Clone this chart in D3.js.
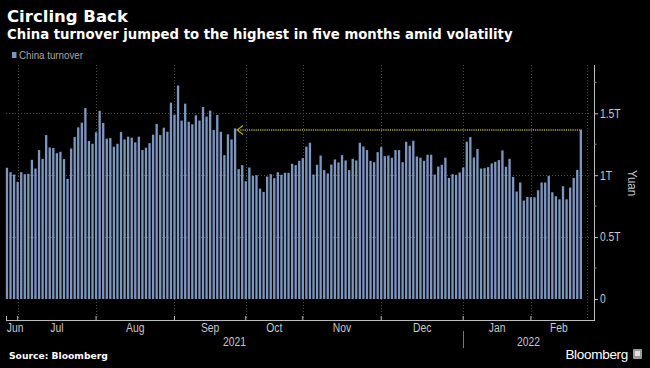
<!DOCTYPE html>
<html>
<head>
<meta charset="utf-8">
<script src="https://cdn.jsdelivr.net/npm/d3@7"></script>
<style>
  html, body { margin: 0; padding: 0; background: #000; }
  svg { display: block; }
</style>
</head>
<body>
<svg id="chart" width="650" height="368"></svg>
<script>
// ---------------- DATA ----------------
const dates = [
  "2021-06-28","2021-06-29","2021-06-30",
  "2021-07-01","2021-07-02","2021-07-05","2021-07-06","2021-07-07","2021-07-08","2021-07-09","2021-07-12","2021-07-13","2021-07-14","2021-07-15","2021-07-16","2021-07-19","2021-07-20","2021-07-21","2021-07-22","2021-07-23","2021-07-26","2021-07-27","2021-07-28","2021-07-29","2021-07-30",
  "2021-08-02","2021-08-03","2021-08-04","2021-08-05","2021-08-06","2021-08-09","2021-08-10","2021-08-11","2021-08-12","2021-08-13","2021-08-16","2021-08-17","2021-08-18","2021-08-19","2021-08-20","2021-08-23","2021-08-24","2021-08-25","2021-08-26","2021-08-27","2021-08-30","2021-08-31",
  "2021-09-01","2021-09-02","2021-09-03","2021-09-06","2021-09-07","2021-09-08","2021-09-09","2021-09-10","2021-09-13","2021-09-14","2021-09-15","2021-09-16","2021-09-17","2021-09-22","2021-09-23","2021-09-24","2021-09-27","2021-09-28","2021-09-29","2021-09-30",
  "2021-10-08","2021-10-11","2021-10-12","2021-10-13","2021-10-14","2021-10-15","2021-10-18","2021-10-19","2021-10-20","2021-10-21","2021-10-22","2021-10-25","2021-10-26","2021-10-27","2021-10-28","2021-10-29",
  "2021-11-01","2021-11-02","2021-11-03","2021-11-04","2021-11-05","2021-11-08","2021-11-09","2021-11-10","2021-11-11","2021-11-12","2021-11-15","2021-11-16","2021-11-17","2021-11-18","2021-11-19","2021-11-22","2021-11-23","2021-11-24","2021-11-25","2021-11-26","2021-11-29","2021-11-30",
  "2021-12-01","2021-12-02","2021-12-03","2021-12-06","2021-12-07","2021-12-08","2021-12-09","2021-12-10","2021-12-13","2021-12-14","2021-12-15","2021-12-16","2021-12-17","2021-12-20","2021-12-21","2021-12-22","2021-12-23","2021-12-24","2021-12-27","2021-12-28","2021-12-29","2021-12-30","2021-12-31",
  "2022-01-04","2022-01-05","2022-01-06","2022-01-07","2022-01-10","2022-01-11","2022-01-12","2022-01-13","2022-01-14","2022-01-17","2022-01-18","2022-01-19","2022-01-20","2022-01-21","2022-01-24","2022-01-25","2022-01-26","2022-01-27","2022-01-28",
  "2022-02-07","2022-02-08","2022-02-09","2022-02-10","2022-02-11","2022-02-14","2022-02-15","2022-02-16","2022-02-17","2022-02-18","2022-02-21","2022-02-22","2022-02-23","2022-02-24","2022-02-25"
];

// China turnover, trillion yuan
const turnover = [
  1.060,1.024,1.005,
  0.946,1.024,1.008,1.011,1.124,1.054,1.203,1.132,1.324,1.224,1.220,1.178,1.189,1.130,0.970,1.216,1.308,1.386,1.424,1.543,1.276,1.254,1.346,
  1.520,1.422,1.295,1.300,1.230,1.254,1.349,1.289,1.311,1.303,1.265,1.311,1.203,1.222,1.259,1.327,1.414,1.324,1.384,1.351,1.586,1.489,
  1.724,1.441,1.578,1.432,1.411,1.484,1.441,1.551,1.473,1.522,1.365,1.486,1.351,1.162,1.330,1.289,1.378,1.049,1.081,
  0.951,1.062,0.995,1.000,0.892,0.865,0.989,1.008,0.976,1.024,1.003,1.019,1.019,1.092,1.081,1.116,
  1.138,1.230,1.262,1.005,1.084,1.159,1.041,1.014,1.086,1.127,1.103,1.162,1.119,1.041,1.132,1.119,1.262,1.232,1.203,1.116,1.105,1.186,
  1.227,1.154,1.159,1.141,1.203,1.203,1.105,1.270,1.238,1.278,1.151,1.141,1.116,1.165,1.165,1.005,1.070,1.084,1.141,0.978,1.008,1.003,1.022,
  1.062,1.270,1.308,1.143,1.211,1.054,1.057,1.065,1.095,1.108,1.122,1.200,1.068,1.132,0.986,0.868,0.941,0.795,0.824,
  0.822,0.822,0.878,0.941,0.941,0.995,0.862,0.830,0.805,0.911,0.805,0.900,0.978,1.043,1.365
];

const monthLabels = ["Jun","Jul","Aug","Sep","Oct","Nov","Dec","Jan","Feb"];
const yearLabels = ["2021","2022"];
const yTicks = [0, 0.5, 1, 1.5];
const yTickLabels = ["0","0.5T","1T","1.5T"];
const yMinorTicks = [0.25, 0.75, 1.25, 1.75];
const seriesName = "China turnover";
const arrowTargetDate = "2021-09-28";

// ---------------- LAYOUT ----------------
const svg = d3.select("#chart");
const W = 650, H = 368;
svg.append("rect").attr("width", W).attr("height", H).attr("fill", "#000");

const narrow = "'Liberation Sans', 'Roboto', sans-serif";
const boldFont = "'DejaVu Sans', 'Liberation Sans', sans-serif";
const squeeze = 0.86; // condensed look of axis text

const plotLeft = 6, plotRight = 594, axisY = 320, plotTop = 65;

const x = d3.scaleBand()
  .domain(dates)
  .range([5.2, 582.6])
  .paddingInner(0.35)
  .paddingOuter(0.17);

const y = d3.scaleLinear().domain([0, 1.89]).range([299, plotTop]);

function fitText(sel, target) {
  const w = sel.node().getComputedTextLength();
  const fs = parseFloat(sel.attr("font-size"));
  sel.attr("font-size", (fs * target / w).toFixed(2));
}
function condense(sel, k) {
  sel.each(function () {
    const w = this.getComputedTextLength();
    d3.select(this).attr("textLength", (w * k).toFixed(2)).attr("lengthAdjust", "spacingAndGlyphs");
  });
}

// Title & subtitle
const title = svg.append("text").attr("x", 7).attr("y", 21.5)
  .attr("font-family", boldFont).attr("font-weight", "bold").attr("font-size", 17)
  .attr("fill", "#fff").text("Circling Back");
fitText(title, 121);
const subtitle = svg.append("text").attr("x", 7).attr("y", 38.5)
  .attr("font-family", boldFont).attr("font-weight", "bold").attr("font-size", 13)
  .attr("fill", "#fff").text("China turnover jumped to the highest in five months amid volatility");
fitText(subtitle, 506);

// Legend
svg.append("rect").attr("x", 12).attr("y", 52).attr("width", 4.5).attr("height", 6).attr("fill", "#7b97c0");
const leg = svg.append("text").attr("x", 19).attr("y", 59).attr("font-family", narrow).attr("font-size", 10.5)
  .attr("fill", "#a8a8a8").text(seriesName);
condense(leg, 64 / leg.node().getComputedTextLength());

// Month boundaries (first trading day of each month)
const monthKey = d => d.slice(0, 7);
const monthStarts = dates.filter((d, i) => i > 0 && monthKey(d) !== monthKey(dates[i - 1]));
const cx = d => x(d) + x.bandwidth() / 2;

// Gridlines
const grid = svg.append("g").attr("stroke", "#4d4d4d").attr("stroke-width", 1).attr("stroke-dasharray", "1,2");
grid.selectAll("line.h").data(yTicks.filter(t => t > 0)).join("line")
  .attr("x1", plotLeft).attr("x2", plotRight - 4)
  .attr("y1", d => Math.round(y(d)) + 0.5).attr("y2", d => Math.round(y(d)) + 0.5);
const vLines = monthStarts.map(cx).concat([587]);
grid.selectAll("line.v").data(vLines).join("line")
  .attr("x1", d => Math.round(d) + 0.5).attr("x2", d => Math.round(d) + 0.5)
  .attr("y1", plotTop).attr("y2", axisY);

// Bars
svg.append("g").selectAll("rect").data(turnover).join("rect")
  .attr("x", (d, i) => x(dates[i]))
  .attr("width", x.bandwidth())
  .attr("y", d => y(d))
  .attr("height", d => y(0) - y(d))
  .attr("fill", "#7b97c0");

// Arrow back to previous high
const lastDate = dates[dates.length - 1];
const lastVal = turnover[turnover.length - 1];
const ay = y(lastVal);
const tipX = x(arrowTargetDate) + x.bandwidth() + 0.8;
const arrowG = svg.append("g").attr("stroke", "#b4ae00").attr("fill", "none");
arrowG.append("line").attr("x1", tipX + 1).attr("x2", x(lastDate) + x.bandwidth())
  .attr("y1", ay).attr("y2", ay).attr("stroke-width", 1.6).attr("stroke-dasharray", "1.2,1");
arrowG.append("polyline")
  .attr("points", [[tipX + 6, ay - 4.5], [tipX, ay], [tipX + 6, ay + 4.5]].map(p => p.join(",")).join(" "))
  .attr("stroke-width", 1.1);

// X axis
svg.append("line").attr("x1", plotLeft).attr("x2", plotRight).attr("y1", axisY + 0.5).attr("y2", axisY + 0.5)
  .attr("stroke", "#bdbdbd").attr("stroke-width", 1);
const xAxis = d3.axisBottom(x).tickValues(monthStarts).tickSizeInner(-4).tickSizeOuter(0).tickFormat("");
const xg = svg.append("g").attr("transform", `translate(0,${axisY})`).call(xAxis);
xg.select(".domain").remove();
xg.selectAll(".tick line").attr("stroke", "#bdbdbd");
svg.append("line").attr("x1", plotLeft + 0.5).attr("x2", plotLeft + 0.5).attr("y1", axisY - 4).attr("y2", axisY)
  .attr("stroke", "#bdbdbd");

// Month labels centered in month intervals
const bounds = [plotLeft].concat(monthStarts.map(cx)).concat([587]);
monthLabels.forEach((m, i) => {
  const t = svg.append("text").attr("y", 331.5).attr("font-family", narrow).attr("font-size", 12)
    .attr("fill", "#c8c8c8").attr("text-anchor", "middle").text(m);
  condense(t, squeeze);
  const w = t.node().getComputedTextLength() * squeeze;
  let mx = (bounds[i] + bounds[i + 1]) / 2;
  mx = Math.max(mx, plotLeft + 2 + w / 2);
  t.attr("x", mx);
});
// Year labels and separator
const janX = cx(monthStarts[monthLabels.indexOf("Jan") - 1]);
svg.append("line").attr("x1", Math.round(janX) + 0.5).attr("x2", Math.round(janX) + 0.5)
  .attr("y1", 331).attr("y2", 348).attr("stroke", "#777");
const yearSpans = [[plotLeft, janX], [janX, plotRight]];
yearLabels.forEach((yr, i) => {
  const t = svg.append("text").attr("x", (yearSpans[i][0] + yearSpans[i][1]) / 2).attr("y", 345.5)
    .attr("font-family", narrow).attr("font-size", 12).attr("fill", "#c8c8c8")
    .attr("text-anchor", "middle").text(yr);
  condense(t, squeeze);
});

// Y axis (right)
const yAxis = d3.axisRight(y).tickValues(yTicks).tickFormat((d, i) => yTickLabels[i])
  .tickSize(4).tickPadding(2);
const yg = svg.append("g").attr("transform", `translate(${plotRight},0)`).call(yAxis);
yg.select(".domain").remove();
yg.selectAll(".tick line").attr("stroke", "#bdbdbd");
yg.selectAll(".tick text").attr("font-family", narrow).attr("font-size", 12).attr("fill", "#c8c8c8");
condense(yg.selectAll(".tick text"), squeeze);
svg.append("line").attr("x1", plotRight + 0.5).attr("x2", plotRight + 0.5).attr("y1", plotTop).attr("y2", axisY + 1)
  .attr("stroke", "#bdbdbd");
svg.append("g").selectAll("line").data(yMinorTicks).join("line")
  .attr("x1", plotRight).attr("x2", plotRight + 2.5)
  .attr("y1", d => y(d)).attr("y2", d => y(d)).attr("stroke", "#8a8a8a");

// Axis title
const yt = svg.append("text").attr("transform", "translate(628,183) rotate(90)")
  .attr("font-family", narrow).attr("font-size", 12.5).attr("fill", "#c8c8c8")
  .attr("text-anchor", "middle").text("Yuan");
condense(yt, 0.92);

// Footer
const src = svg.append("text").attr("x", 9).attr("y", 359).attr("font-family", boldFont)
  .attr("font-weight", "bold").attr("font-size", 9.5).attr("fill", "#fff").text("Source: Bloomberg");
fitText(src, 99);
svg.append("text").attr("x", 628).attr("y", 359).attr("text-anchor", "end")
  .attr("font-family", "'Liberation Sans', 'Roboto', sans-serif").attr("font-size", 13.5)
  .attr("fill", "#fff").attr("letter-spacing", -0.3).text("Bloomberg");
svg.append("rect").attr("x", 633).attr("y", 349).attr("width", 9).attr("height", 10).attr("rx", 1).attr("fill", "#9a9a9a");
svg.append("rect").attr("x", 635).attr("y", 351).attr("width", 5).attr("height", 5).attr("fill", "#e0e0e0");
</script>
</body>
</html>
